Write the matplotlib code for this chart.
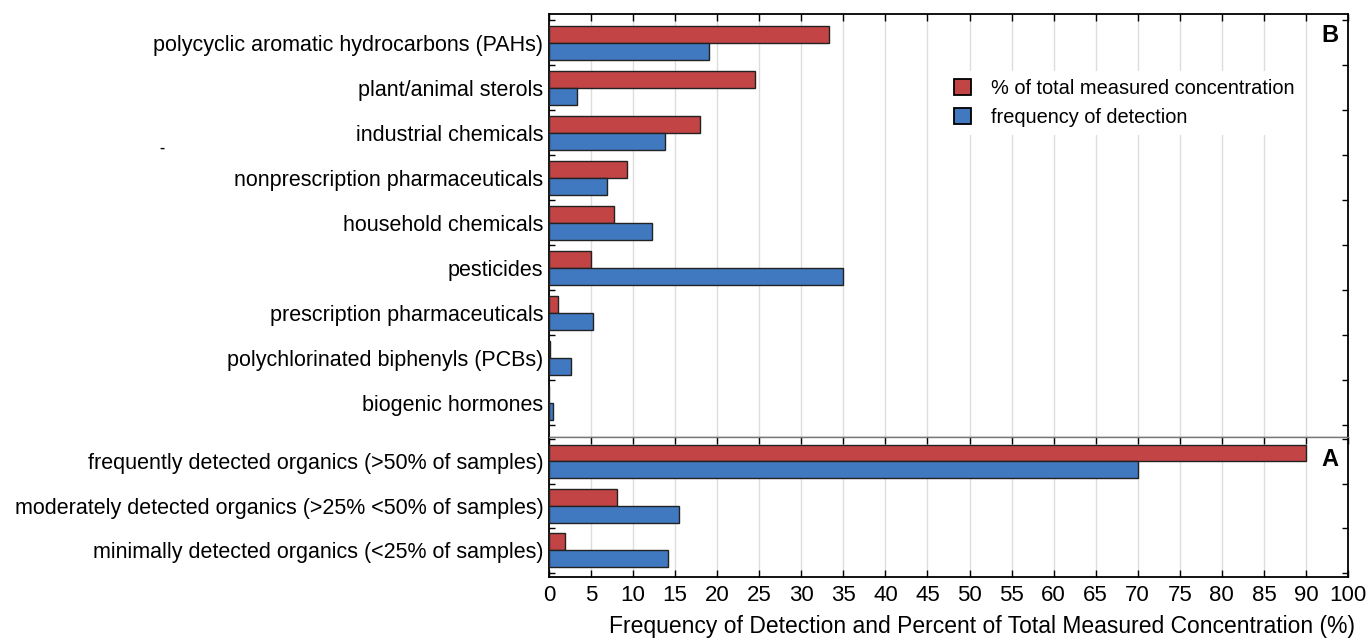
import numpy as np
import matplotlib
matplotlib.use('Agg')
import matplotlib.pyplot as plt
from matplotlib.patches import Patch

plt.rcParams['font.family'] = ['Liberation Sans', 'DejaVu Sans']

# panel B: compound classes
classes_b = ['polycyclic aromatic hydrocarbons (PAHs)', 'plant/animal sterols',
             'industrial chemicals', 'nonprescription pharmaceuticals',
             'household chemicals', 'pesticides', 'prescription pharmaceuticals',
             'polychlorinated biphenyls (PCBs)', 'biogenic hormones']
conc_b = [33.3, 24.5, 18.0, 9.3, 7.7, 5.0, 1.1, 0.15, 0.0]
freq_b = [19.0, 3.3, 13.8, 6.9, 12.3, 34.9, 5.2, 2.6, 0.45]

# panel A: detection groups
classes_a = ['frequently detected organics (>50% of samples)',
             'moderately detected organics (>25% <50% of samples)',
             'minimally detected organics (<25% of samples)']
conc_a = [90.0, 8.1, 1.9]
freq_a = [70.0, 15.4, 14.2]

xticks = list(range(0, 100, 5))
xtick_labels = [str(t) for t in range(0, 95, 5)] + ['100']

red = '#C34444'
blue = '#4079BF'

fig = plt.figure(figsize=(13.69, 6.41), dpi=100)
left, right = 549 / 1369, 1348 / 1369
top, mid, bottom = 1 - 14 / 641, 1 - 437 / 641, 1 - 577 / 641
axb = fig.add_axes([left, mid, right - left, top - mid])
axa = fig.add_axes([left, bottom, right - left, mid - bottom], sharex=axb)

bh = 0.38


def draw_panel(ax, names, conc, freq, ylim, letter, letter_y):
    y = np.arange(len(names))
    ax.barh(y - bh / 2, conc, height=bh, color=red, edgecolor='#222222', linewidth=1, zorder=3)
    ax.barh(y + bh / 2, freq, height=bh, color=blue, edgecolor='#222222', linewidth=1, zorder=3)
    ax.set_ylim(*ylim)
    ax.set_yticks(np.arange(len(names) + 1) - 0.5)
    ax.set_yticklabels([])
    ax.set_yticks(y, minor=True)
    ax.set_yticklabels(names, minor=True, fontsize=15.5)
    ax.tick_params(axis='y', which='minor', length=0, pad=4)
    ax.tick_params(axis='y', which='major', direction='in', length=4, left=True, right=True, width=1)
    ax.tick_params(axis='x', which='major', direction='in', length=5, top=True, bottom=True, width=1)
    ax.grid(axis='x', color='#dddddd', linewidth=1, zorder=0)
    ax.text(1330 / 1369, letter_y, letter, transform=fig.transFigure,
            ha='center', va='center', fontsize=17, fontweight='bold')
    for s in ax.spines.values():
        s.set_linewidth(1.3)


draw_panel(axb, classes_b, conc_b, freq_b, (8.76, -0.64), 'B', 1 - 36 / 641)
draw_panel(axa, classes_a, conc_a, freq_a, (2.6, -0.55), 'A', 1 - 460 / 641)

axb.spines['bottom'].set_color('#777777')
axb.spines['bottom'].set_linewidth(1)
axa.spines['top'].set_color('#777777')
axa.spines['top'].set_linewidth(1)
axb.tick_params(axis='x', labelbottom=False, bottom=False)

axa.set_xlim(0, 95)
axa.set_xticks(xticks)
axa.set_xticklabels(xtick_labels, fontsize=16)
axa.tick_params(axis='x', pad=6)
axa.set_xlabel('Frequency of Detection and Percent of Total Measured Concentration (%)', fontsize=16.5)
axa.xaxis.label.set_va('center')
axa.xaxis.set_label_coords(0.542, -0.355)

handles = [Patch(facecolor=red, edgecolor='black', linewidth=1.3),
           Patch(facecolor=blue, edgecolor='black', linewidth=1.3)]
leg = axb.legend(handles, ['% of total measured concentration', 'frequency of detection'],
                 loc='upper left', bbox_to_anchor=(0.497, 0.865), fontsize=14.4, frameon=True,
                 handlelength=0.85, handleheight=0.85, handletextpad=1.0, labelspacing=0.5,
                 borderaxespad=0)
leg.get_frame().set_edgecolor('none')
leg.get_frame().set_facecolor('white')
leg.get_frame().set_alpha(1)

fig.text(162 / 1369, 1 - 148 / 641, '-', fontsize=11, fontweight='bold', ha='center', va='center')

fig.savefig('out.png', dpi=100)
